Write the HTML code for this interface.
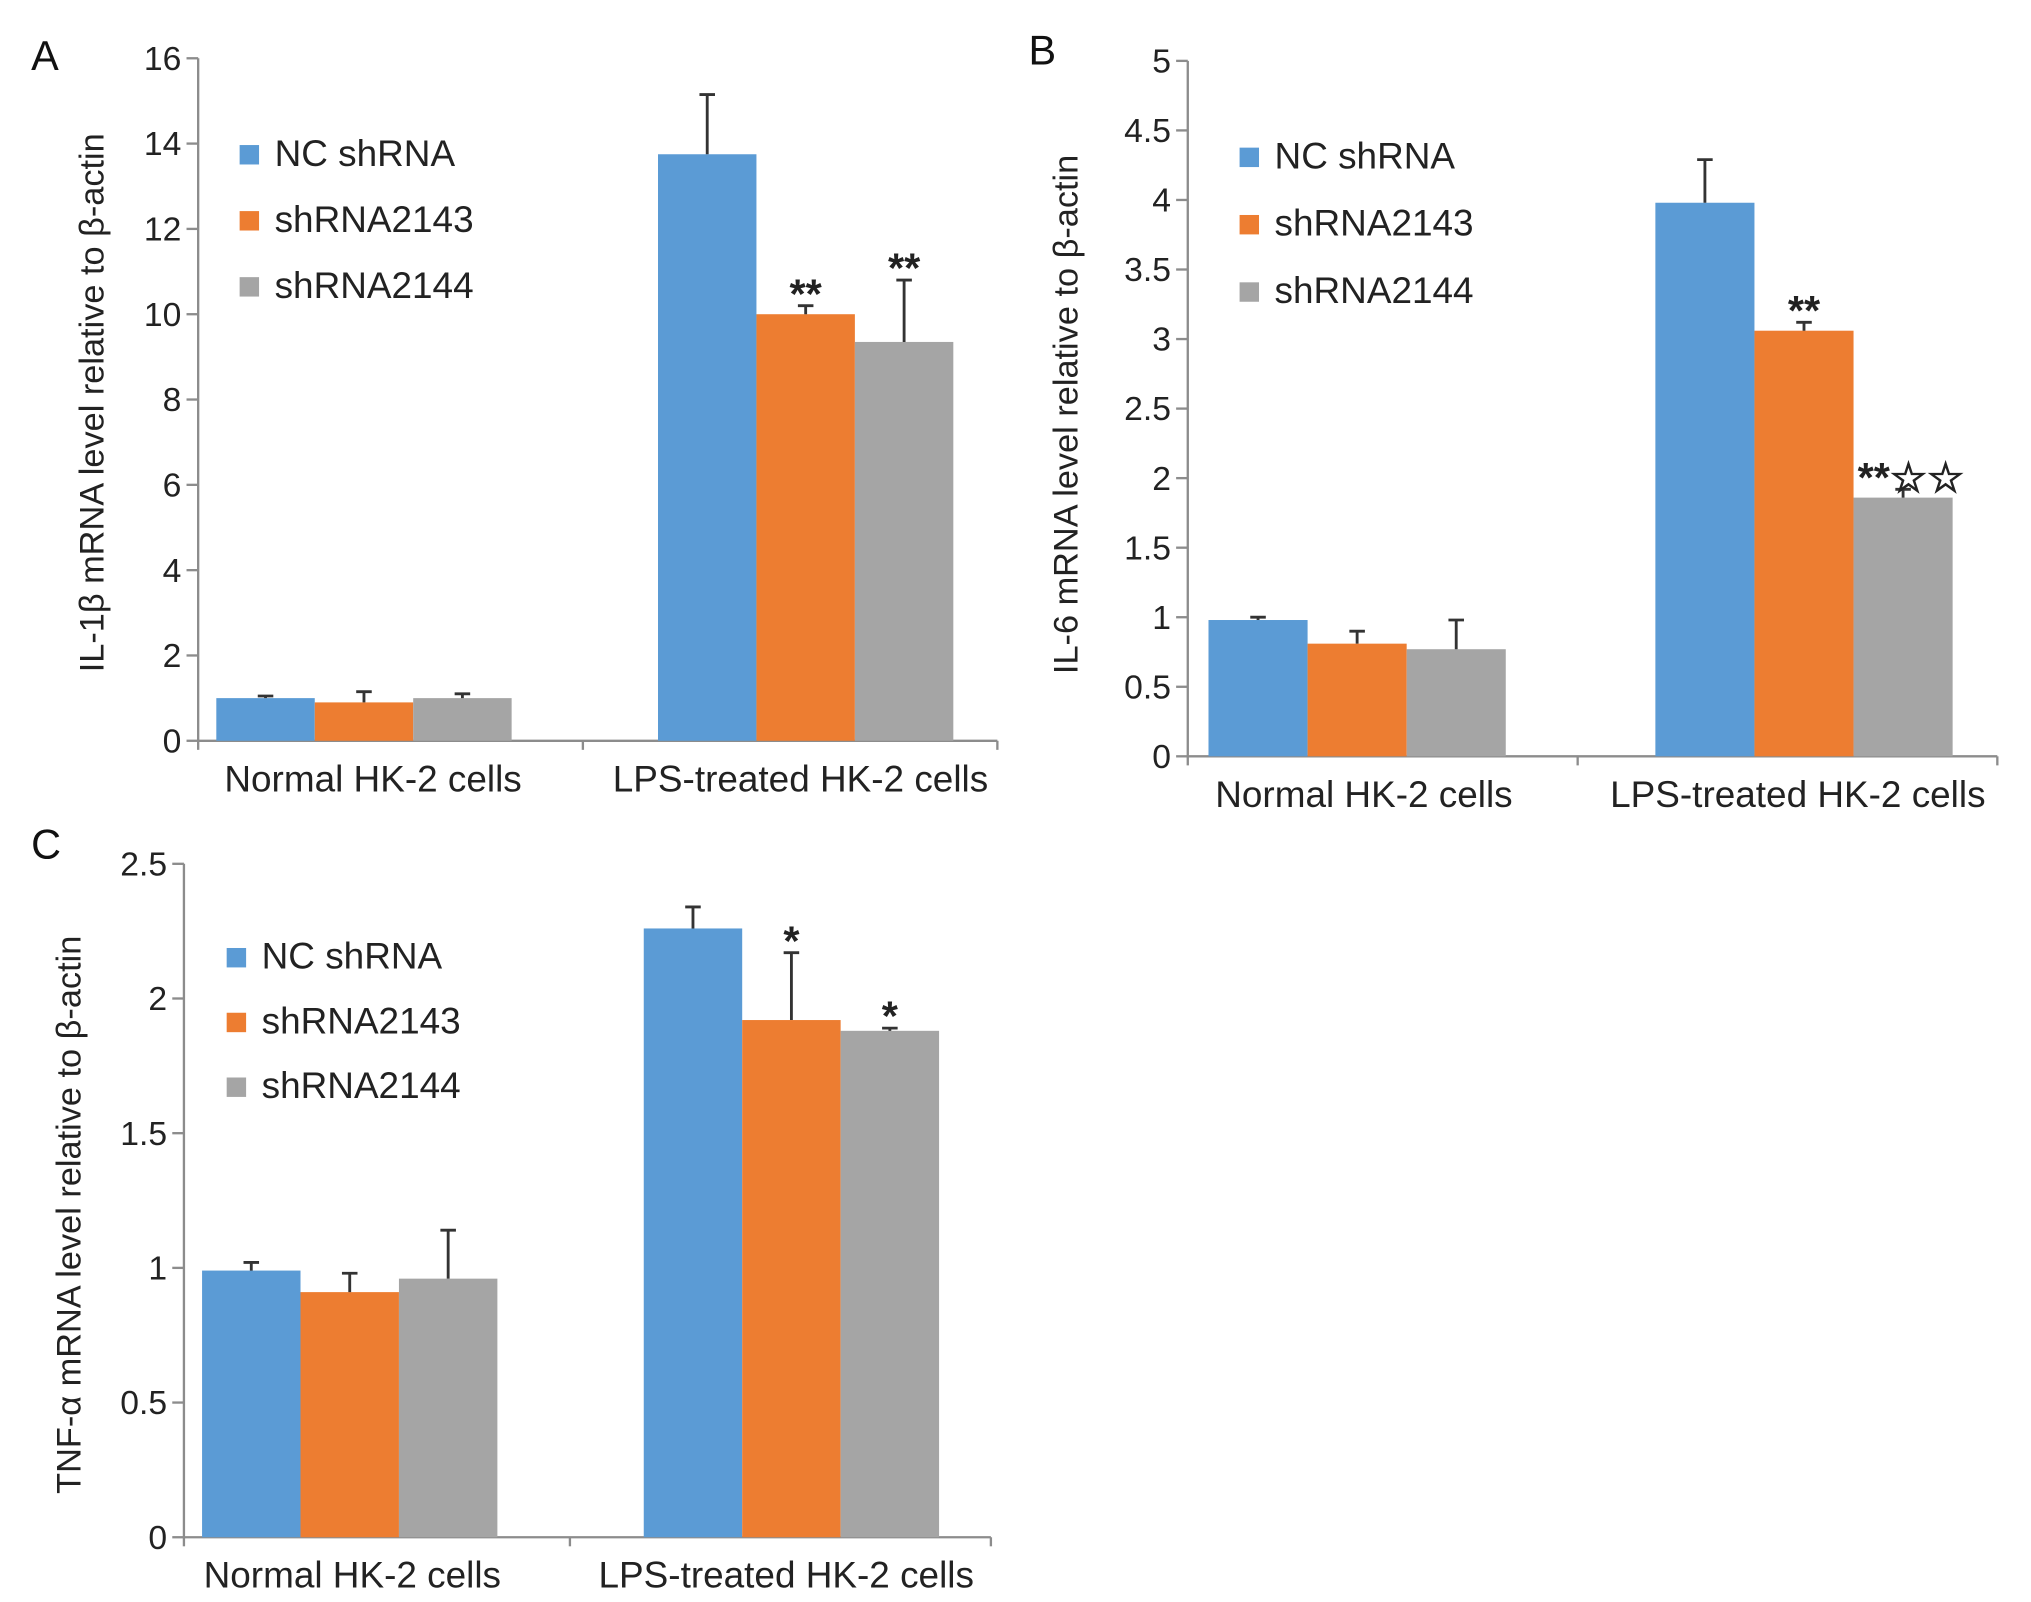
<!DOCTYPE html>
<html><head><meta charset="utf-8"><style>
html,body{margin:0;padding:0;background:#fff;}
svg{display:block;font-family:"Liberation Sans",sans-serif;}
</style></head><body>
<svg id="fig" width="2031" height="1602" viewBox="0 0 1568 1237" preserveAspectRatio="none" xmlns="http://www.w3.org/2000/svg"></svg>
<script>
const categories = ["Normal HK-2 cells", "LPS-treated HK-2 cells"];
const seriesNames = ["NC shRNA", "shRNA2143", "shRNA2144"];
const colors = ["#5b9bd5", "#ed7d31", "#a5a5a5"];
// Panel A
const aNC = [1.0, 13.75], aS43 = [0.9, 10.0], aS44 = [1.0, 9.35];
const aNCerr = [0.05, 1.4], aS43err = [0.25, 0.2], aS44err = [0.1, 1.45];
const aTicks = ["0","2","4","6","8","10","12","14","16"];
const aMarks = ["", "", "", "", "**", "**"];
// Panel B
const bNC = [0.98, 3.98], bS43 = [0.81, 3.06], bS44 = [0.77, 1.86];
const bNCerr = [0.02, 0.31], bS43err = [0.09, 0.06], bS44err = [0.21, 0.06];
const bTicks = ["0","0.5","1","1.5","2","2.5","3","3.5","4","4.5","5"];
const bMarks = ["", "", "", "", "**", "**\u2606\u2606"];
// Panel C
const cNC = [0.99, 2.26], cS43 = [0.91, 1.92], cS44 = [0.96, 1.88];
const cNCerr = [0.03, 0.08], cS43err = [0.07, 0.25], cS44err = [0.18, 0.01];
const cTicks = ["0","0.5","1","1.5","2","2.5"];
const cMarks = ["", "", "", "", "*", "*"];

const NS = "http://www.w3.org/2000/svg";
const svg = document.getElementById("fig");
function mk(tag, attrs, parent, text) {
  const e = document.createElementNS(NS, tag);
  for (const k in attrs) e.setAttribute(k, attrs[k]);
  if (text !== undefined) e.textContent = text;
  (parent || svg).appendChild(e);
  return e;
}

function panel(cfg) {
  const g = mk("g", {});
  
  
  const ymax = parseFloat(cfg.ticks[cfg.ticks.length - 1]);
  const y = v => cfg.y0 - (v / ymax) * (cfg.y0 - cfg.yTop);
  const ax = "#8c8c8c";
  const yAxis = mk("line", {x1: cfg.ax, y1: cfg.yTop, x2: cfg.ax, y2: cfg.y0, stroke: ax, "stroke-width": 1.8}, g);
  
  
  const xAxis = mk("line", {x1: cfg.ax, y1: cfg.y0, x2: cfg.xEnd, y2: cfg.y0, stroke: ax, "stroke-width": 1.8}, g);
  
  
  [cfg.ax, cfg.sep, cfg.xEnd].forEach(xx => mk("line", {x1: xx, y1: cfg.y0, x2: xx, y2: cfg.y0 + 7, stroke: ax, "stroke-width": 1.8}, g));
  cfg.ticks.forEach(t => {
    const yy = y(parseFloat(t));
    mk("line", {x1: cfg.ax - 9, y1: yy, x2: cfg.ax, y2: yy, stroke: ax, "stroke-width": 1.8}, g);
    const tl = mk("text", {x: cfg.ax - 13, y: yy + 9, "text-anchor": "end", "font-size": 26, fill: "#222"}, g, t);
    
    
  });
  const series = [cfg.nc, cfg.s43, cfg.s44];
  const errs = [cfg.ncErr, cfg.s43Err, cfg.s44Err];
  categories.forEach((cat, ci) => {
    series.forEach((s, si) => {
      const x0 = cfg.groupX[ci] + si * cfg.bw;
      const r = mk("rect", {x: x0, y: y(s[ci]), width: cfg.bw, height: cfg.y0 - y(s[ci]), fill: colors[si]}, g);
      
      
      const cx = x0 + cfg.bw / 2;
      const top = y(s[ci] + errs[si][ci]);
      const eb = mk("path", {d: `M${cx} ${y(s[ci])}V${top}M${cx - 6} ${top}H${cx + 6}`, stroke: "#333", "stroke-width": 2.2, fill: "none"}, g);
      
      
      const m = cfg.marks[ci * 3 + si];
      if (m) {
        const st = mk("text", {x: cx + (m.length > 2 ? 6 : 0), y: top + 2, "text-anchor": "middle", "font-size": 32, "font-weight": "bold", fill: "#222"}, g, m);
        
        
      }
    });
    const cl = mk("text", {x: cfg.catX[ci], y: cfg.y0 + 39, "text-anchor": "middle", "font-size": 28.5, fill: "#222"}, g, cat);
    
    
  });
  seriesNames.forEach((n, i) => {
    const ly = cfg.legY + i * cfg.legGap;
    const sq = mk("rect", {x: cfg.legX, y: ly - 7, width: 15, height: 15, fill: colors[i]}, g);
    
    
    const lt = mk("text", {x: cfg.legX + 27, y: ly + 9, "font-size": 28.5, fill: "#222"}, g, n);
    
    
  });
  const yt = mk("text", {x: 0, y: 0, "text-anchor": "middle", "font-size": 26.5, fill: "#222", transform: `translate(${cfg.ytX},${cfg.ytY}) rotate(-90)`}, g, cfg.ytitle);
  
  
  const pl = mk("text", {x: cfg.letX, y: cfg.letY, "font-size": 32, fill: "#111"}, g, cfg.letter);
  
  
}

panel({name: "panel-a", letter: "A", letX: 24, letY: 54, ax: 153, xEnd: 770, sep: 450, yTop: 45, y0: 572,
  ticks: aTicks, nc: aNC, s43: aS43, s44: aS44, ncErr: aNCerr, s43Err: aS43err, s44Err: aS44err, marks: aMarks,
  groupX: [167, 508], bw: 76, catX: [288, 618], legX: 185, legY: 119, legGap: 51,
  ytitle: "IL-1\u03b2 mRNA level relative to \u03b2-actin", ytX: 80, ytY: 311});
panel({name: "panel-b", letter: "B", letX: 794, letY: 50, ax: 917, xEnd: 1542, sep: 1218, yTop: 47, y0: 584,
  ticks: bTicks, nc: bNC, s43: bS43, s44: bS44, ncErr: bNCerr, s43Err: bS43err, s44Err: bS44err, marks: bMarks,
  groupX: [933, 1278], bw: 76.5, catX: [1053, 1388], legX: 957, legY: 121, legGap: 52,
  ytitle: "IL-6 mRNA level relative to \u03b2-actin", ytX: 832, ytY: 320});
panel({name: "panel-c", letter: "C", letX: 24, letY: 663, ax: 142, xEnd: 765, sep: 440, yTop: 667, y0: 1187,
  ticks: cTicks, nc: cNC, s43: cS43, s44: cS44, ncErr: cNCerr, s43Err: cS43err, s44Err: cS44err, marks: cMarks,
  groupX: [156, 497], bw: 76, catX: [272, 607], legX: 175, legY: 739, legGap: 50,
  ytitle: "TNF-\u03b1 mRNA level relative to \u03b2-actin", ytX: 62, ytY: 938});
</script>
</body></html>
